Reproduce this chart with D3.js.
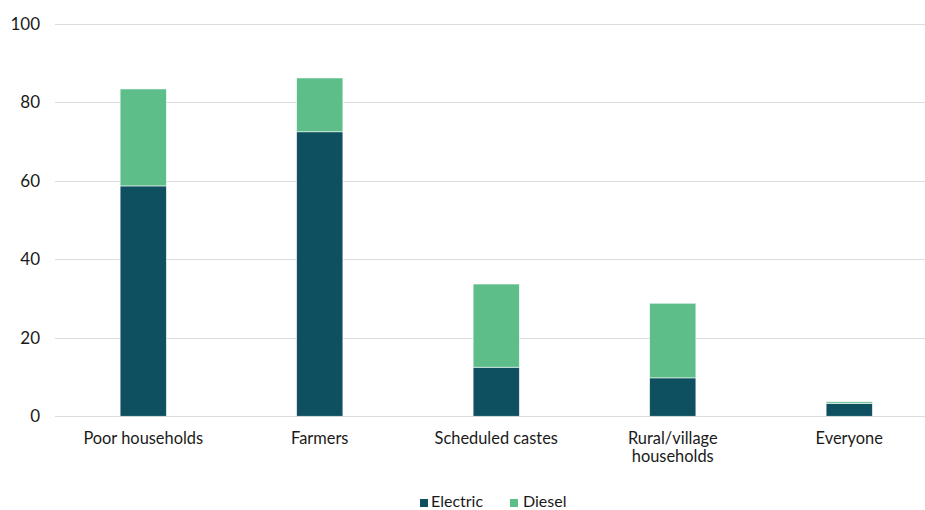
<!DOCTYPE html>
<html>
<head>
<meta charset="utf-8">
<script src="https://cdn.jsdelivr.net/npm/d3@7/dist/d3.min.js"></script>
<style>
  html, body { margin: 0; padding: 0; background: #fff; }
  svg { display: block; font-family: Lato, "Noto Sans", sans-serif; }
</style>
</head>
<body>
<svg id="chart" width="925" height="510"></svg>
<script>
// Share of each group (%), split by pump type
const categories = ["Poor households", "Farmers", "Scheduled castes", "Rural/village households", "Everyone"];
const categoryLines = [["Poor households"], ["Farmers"], ["Scheduled castes"], ["Rural/village", "households"], ["Everyone"]];
const electric = [58.7, 72.5, 12.5, 9.8, 3.3];
const diesel = [24.7, 13.7, 21.2, 19.0, 0.4];
const seriesNames = ["Electric", "Diesel"];
const yTicks = [0, 20, 40, 60, 80, 100];

const colors = { Electric: "#0e4f60", Diesel: "#5dbe8a" };

const svg = d3.select("#chart");
const W = 925;

const x = d3.scaleBand().domain(categories).range([55, 937.5]).paddingInner(0).paddingOuter(0);
const y = d3.scaleLinear().domain([0, 100]).range([416.3, 23.8]);
const barW = x.bandwidth() * 0.262;

// Gridlines
svg.append("g")
  .selectAll("line")
  .data(yTicks)
  .join("line")
  .attr("x1", 55).attr("x2", W)
  .attr("y1", d => Math.round(y(d)) + 0.5).attr("y2", d => Math.round(y(d)) + 0.5)
  .attr("stroke", "#dcdcdc").attr("stroke-width", 1.2);

// Y axis labels
const yAxis = d3.axisLeft(y).tickValues(yTicks).tickSize(0).tickPadding(0);
const gy = svg.append("g").attr("transform", "translate(40,0)").call(yAxis);
gy.select(".domain").remove();
gy.selectAll("text")
  .attr("font-size", 17)
  .attr("fill", "#1a1a1a")
  .attr("font-family", "Lato, 'Noto Sans', sans-serif");

// Stacked bars
const rows = categories.map((c, i) => ({ cat: c, Electric: electric[i], Diesel: diesel[i] }));
const stacked = d3.stack().keys(seriesNames)(rows);

svg.append("g")
  .selectAll("g")
  .data(stacked)
  .join("g")
  .attr("fill", s => colors[s.key])
  .selectAll("rect")
  .data(s => s)
  .join("rect")
  .attr("x", d => x(d.data.cat) + x.bandwidth() / 2 - barW / 2)
  .attr("width", barW)
  .attr("y", d => y(d[1]))
  .attr("height", d => y(d[0]) - y(d[1]))
  .attr("stroke", "#ffffff")
  .attr("stroke-opacity", 0.7)
  .attr("stroke-width", 0.8);

// Category labels
const xl = svg.append("g")
  .selectAll("text")
  .data(categories)
  .join("text")
  .attr("x", d => x(d) + x.bandwidth() / 2)
  .attr("y", 444)
  .attr("text-anchor", "middle")
  .attr("font-size", 16.4)
  .attr("fill", "#1a1a1a");
xl.each(function(d, i) {
  const t = d3.select(this);
  categoryLines[i].forEach((line, j) => {
    t.append("tspan")
      .attr("x", x(d) + x.bandwidth() / 2)
      .attr("dy", j === 0 ? 0 : 18)
      .text(line);
  });
});

// Legend
const legendItems = [
  { name: "Electric", sx: 420, tx: 431 },
  { name: "Diesel", sx: 510, tx: 523 }
];
const lg = svg.append("g");
lg.selectAll("rect")
  .data(legendItems)
  .join("rect")
  .attr("x", d => d.sx).attr("y", 499)
  .attr("width", 8).attr("height", 8)
  .attr("fill", d => colors[d.name]);
lg.selectAll("text")
  .data(legendItems)
  .join("text")
  .attr("x", d => d.tx).attr("y", 506.5)
  .attr("font-size", 16)
  .attr("fill", "#1a1a1a")
  .text(d => d.name);
</script>
</body>
</html>
